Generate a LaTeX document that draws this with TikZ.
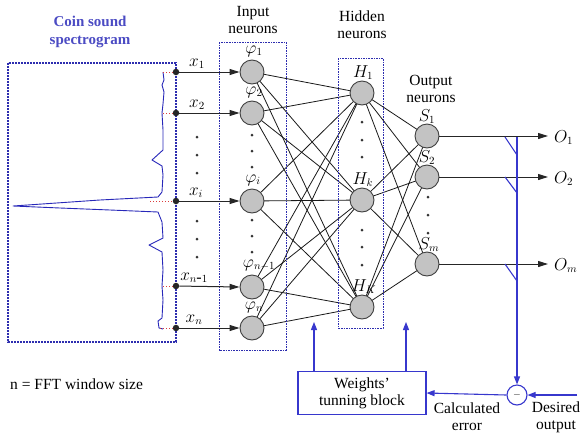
\documentclass[tikz,border=0pt]{standalone}
\usepackage{fontspec}
\setmainfont{Liberation Serif}
\usetikzlibrary{arrows.meta}
\definecolor{netblue}{RGB}{55,55,205}
\definecolor{boxblue}{RGB}{45,45,175}
\definecolor{titleblue}{RGB}{75,75,195}
\definecolor{curveblue}{RGB}{40,40,185}
\definecolor{neurongray}{RGB}{195,195,195}
\definecolor{tapred}{RGB}{220,60,60}
\tikzset{
  neuron/.style={circle, draw=black!75, fill=neurongray, line width=0.9pt, minimum size=24pt, inner sep=0pt},
  layerbox/.style={draw=boxblue, dash pattern=on 1.6pt off 1pt, line width=1pt},
  specbox/.style={draw=boxblue, dash pattern=on 2pt off 1pt, line width=1.6pt},
  syn/.style={line width=0.8pt, black!90},
  feed/.style={draw=netblue, line width=1.1pt, -{Triangle[length=8pt,width=6pt]}},
  inarrow/.style={line width=1pt, black!85, -{Triangle[length=10pt,width=6pt]}},
  lbl/.style={font=\fontsize{15.5}{17}\selectfont, inner sep=1pt, align=center},
  sym/.style={font=\fontsize{16}{18}\selectfont, inner sep=0pt, anchor=base},
  tap/.style={circle, fill=black!85, inner sep=0pt, minimum size=6.5pt},
  dotmark/.style={circle, fill=black!80, inner sep=0pt, minimum size=3pt},
  tapline/.style={draw=tapred, dotted, line width=1pt}
}
\begin{document}
\begin{tikzpicture}[x=1pt,y=-1pt]
\useasboundingbox (0,0) rectangle (581,437);

% spectrogram frame and title
\draw[specbox] (8,63) rectangle (176,342);
\node[lbl, text=titleblue, font=\bfseries\fontsize{15}{18}\selectfont] (spec) at (90,32) {Coin sound\\spectrogram};

% spectrum curve
\draw[curveblue, line width=0.9pt, line join=round]
  (163,72) -- (164,80) -- (162,85) -- (164,92) -- (163,104) -- (162,113) -- (163,130)
  -- (163,150) -- (152,160) -- (162,166) -- (163,175) -- (162,192) -- (158,197)
  -- (100,200) -- (13,206) -- (60,208) -- (110,210) -- (158,212) -- (162,222)
  -- (163,238) -- (149,245) -- (162,252) -- (163,270) -- (162,286) -- (163,300)
  -- (162,318) -- (158,321) -- (159,328) -- (163,329);

% sampling taps
\foreach \y/\n/\cx in {72/1/163, 113/2/163, 201/i/150, 286/n1/163, 328/n/160}{
  \coordinate (c\n) at (\cx,\y);
  \node[tap] (t\n) at (176,\y) {};
  \draw[tapline] (c\n) -- (t\n);
}

% full connections (drawn first so the neurons cover their ends)
\foreach \a/\ax/\ay in {p1/252/72, p2/252/113, pi/252/201, pn1/252/287, pn/252/328}{
  \foreach \b/\bx/\by in {h1/362/93, hk/362/200, hK/362/307}{
    \draw[syn] (\ax,\ay) -- (\bx,\by);
  }
}
\foreach \a/\ax/\ay in {h1/362/93, hk/362/200, hK/362/307}{
  \foreach \b/\bx/\by in {s1/427/136, s2/427/177, sm/427/264}{
    \draw[syn] (\ax,\ay) -- (\bx,\by);
  }
}

% input layer
\draw[layerbox] (219,42) rectangle (286,350);
\node[lbl] (inlbl) at (253,20) {Input\\neurons};
\node[neuron] (p1)  at (252,72)  {};
\node[neuron] (p2)  at (252,113) {};
\node[neuron] (pi)  at (252,201) {};
\node[neuron] (pn1) at (252,287) {};
\node[neuron] (pn)  at (252,328) {};
\node[sym] (lp1)  at (254,53)  {$\varphi_1$};
\node[sym] (lp2)  at (254,94)  {$\varphi_2$};
\node[sym] (lpi)  at (253,182) {$\varphi_i$};
\node[sym] (lpn1) at (259,267) {$\varphi_{n-1}$};
\node[sym] (lpn)  at (254,309) {$\varphi_n$};

% input signals
\foreach \n in {1,2,i,n1,n}{ \draw[inarrow] (t\n) -- (p\n.west); }
\node[sym] (lx1)  at (197,66)  {$x_1$};
\node[sym] (lx2)  at (197,107) {$x_2$};
\node[sym] (lxi)  at (196,195) {$x_i$};
\node[sym] (lxn1) at (194,280) {$x_{n\mbox{-}1}$};
\node[sym] (lxn)  at (194,322) {$x_n$};

% hidden layer
\draw[layerbox] (338,58) rectangle (383,328);
\node[lbl] (hidlbl) at (362,25) {Hidden\\neurons};
\node[neuron] (h1) at (362,93)  {};
\node[neuron] (hk) at (362,200) {};
\node[neuron] (hK) at (362,307) {};
\node[sym] (lh1) at (363,77)  {$H_1$};
\node[sym] (lhk) at (363,184) {$H_k$};
\node[sym] (lhK) at (364,291) {$H_K$};

% output layer
\node[lbl] (outlbl) at (431,89) {Output\\neurons};
\node[neuron] (s1) at (427,136) {};
\node[neuron] (s2) at (427,177) {};
\node[neuron] (sm) at (427,264) {};
\node[sym] (ls1) at (427,121) {$S_1$};
\node[sym] (ls2) at (427,162) {$S_2$};
\node[sym] (lsm) at (429,249) {$S_m$};

% ellipsis dots
\foreach \x/\y in {197/137, 197/155, 197/173, 197/221, 197/239, 197/257,
                   252/135, 252/151, 252/167, 252/220, 252/236, 252/252,
                   362/122, 362/140, 362/157, 362/230, 362/247, 362/265,
                   428/197, 428/215, 428/233}{
  \node[dotmark] at (\x,\y) {};
}

% outputs
\coordinate (o1) at (548,136);
\coordinate (o2) at (548,177);
\coordinate (om) at (548,264);
\draw[inarrow] (s1.east) -- (o1);
\draw[inarrow] (s2.east) -- (o2);
\draw[inarrow] (sm.east) -- (om);
\node[sym, anchor=base west] (lo1) at (554,142) {$O_1$};
\node[sym, anchor=base west] (lo2) at (554,183) {$O_2$};
\node[sym, anchor=base west] (lom) at (554,270) {$O_m$};

% error feedback
\node[circle, draw=netblue, line width=1.1pt, minimum size=20pt, inner sep=0pt, fill=white] (err) at (517,395) {$-$};
\draw[netblue, line width=1.1pt] (505,137) -- (517,155);
\draw[netblue, line width=1.1pt] (505,177) -- (517,193);
\draw[netblue, line width=1.1pt] (505,264) -- (517,281);
\coordinate (ftop) at (517,137);
\draw[feed] (ftop) -- (err.north);
\coordinate (des) at (577,395);
\draw[feed] (des) -- (err.east);

\node[draw=netblue, line width=1.1pt, minimum width=128pt, minimum height=43pt, lbl] (wtb) at (362,393) {Weights'\\tunning block};
\draw[feed] (err.west) -- (wtb.east);
\coordinate (u1) at (314,322);
\coordinate (u2) at (406,322);
\draw[feed] (u1 |- wtb.north) -- (u1);
\draw[feed] (u2 |- wtb.north) -- (u2);

\node[lbl] (calc) at (467,417) {Calculated\\error};
\node[lbl] (desl) at (556,417) {Desired\\output};
\node[lbl, anchor=west] (fft) at (9,384) {n = FFT window size};
\end{tikzpicture}
\end{document}
